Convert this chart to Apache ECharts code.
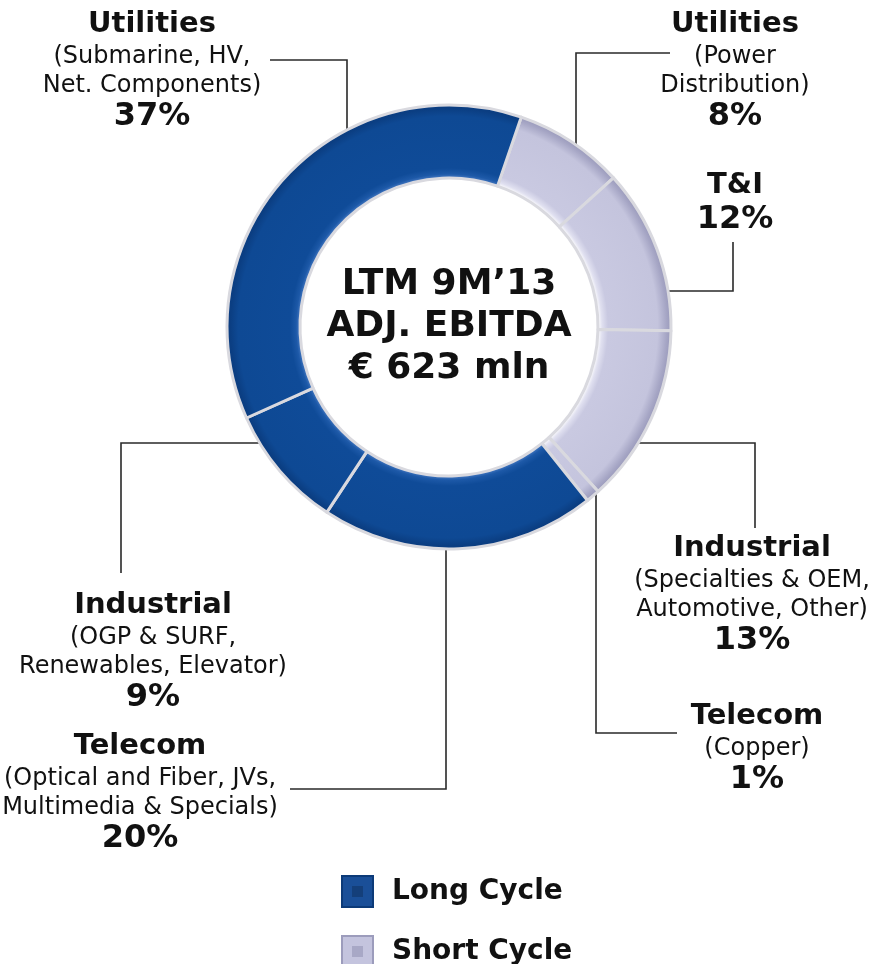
<!DOCTYPE html>
<html>
<head>
<meta charset="utf-8">
<script src="https://cdn.jsdelivr.net/npm/echarts@6/dist/echarts.min.js"></script>
<style>
  html, body { margin: 0; padding: 0; background: #ffffff; }
  #chart { width: 875px; height: 964px; }
</style>
</head>
<body>
<div id="chart"></div>
<script>
// Segment data, clockwise from the top of the ring
const segmentTitles = ['Utilities', 'T&I', 'Industrial', 'Telecom', 'Telecom', 'Industrial', 'Utilities'];
const segmentDetails = [
  ['(Power', 'Distribution)'],
  [],
  ['(Specialties & OEM,', 'Automotive, Other)'],
  ['(Copper)'],
  ['(Optical and Fiber, JVs,', 'Multimedia & Specials)'],
  ['(OGP & SURF,', 'Renewables, Elevator)'],
  ['(Submarine, HV,', 'Net. Components)']
];
const segmentShares = [8, 12, 13, 1, 20, 9, 37];
const segmentCycles = ['Short Cycle', 'Short Cycle', 'Short Cycle', 'Short Cycle', 'Long Cycle', 'Long Cycle', 'Long Cycle'];
const cycleNames = ['Long Cycle', 'Short Cycle'];
const centerLines = ['LTM 9M\u201913', 'ADJ. EBITDA', '\u20ac 623 mln'];

// Ring geometry
const CX = 449, CY = 327, R_IN = 149, R_OUT = 222;
const FONT = 'DejaVu Sans, Verdana, sans-serif';

// Bevelled ring fills (radial, absolute pixel space)
function ringFill(stops) {
  return {
    type: 'radial', x: CX, y: CY, r: R_OUT, global: true,
    colorStops: stops.map(s => ({ offset: s[0], color: s[1] }))
  };
}
const k = R_IN / R_OUT;
const cycleFill = {
  'Long Cycle': ringFill([
    [0, '#4a7cc4'], [k, '#4a7cc4'], [k + 0.018, '#1d59a8'], [k + 0.045, '#0f4b98'],
    [0.95, '#0e4994'], [0.985, '#0b3e82'], [1, '#0b3e82']
  ]),
  'Short Cycle': ringFill([
    [0, '#ffffff'], [k, '#ffffff'], [k + 0.018, '#e0e0f0'], [k + 0.045, '#c9c9e1'],
    [0.94, '#c4c4dd'], [0.98, '#a6a6c5'], [1, '#9a9abb']
  ])
};
const legendSwatch = { 'Long Cycle': ['#1a4f98', '#0c3a78', '#143f7a'], 'Short Cycle': ['#c4c4de', '#9c9cbc', '#a8a8c6'] };

// Label anchors: [centre x, top y]
const labelAnchor = [[735, 6], [735, 167], [752, 530], [757, 698], [140, 728], [153, 587], [152, 6]];

function ringYAt(x, sign) { return CY + sign * Math.sqrt(R_OUT * R_OUT - (x - CX) * (x - CX)); }
function ringXAt(y, sign) { return CX + sign * Math.sqrt(R_OUT * R_OUT - (y - CY) * (y - CY)); }

// Leader lines, ending on the ring's outer edge
const leaders = [
  [[670, 53], [576, 53], [576, ringYAt(576, -1)]],
  [[733, 242], [733, 291], [ringXAt(291, 1), 291]],
  [[ringXAt(443, 1), 443], [755, 443], [755, 528]],
  [[596, ringYAt(596, 1)], [596, 733], [677, 733]],
  [[446, ringYAt(446, 1)], [446, 789], [290, 789]],
  [[ringXAt(443, -1), 443], [121, 443], [121, 573]],
  [[270, 60], [347, 60], [347, ringYAt(347, -1)]]
];

const pieData = segmentShares.map((v, i) => ({
  name: segmentTitles[i] + ' ' + segmentDetails[i].join(' '),
  value: v,
  itemStyle: { color: cycleFill[segmentCycles[i]] }
}));

const graphics = [];
leaders.forEach(pts => {
  graphics.push({
    type: 'polyline', silent: true, z: 1,
    shape: { points: pts },
    style: { stroke: '#2a2a2a', lineWidth: 1.6, fill: null }
  });
});
graphics.push({
  type: 'text', x: CX, y: CY, z: 5,
  style: {
    text: centerLines.join('\n'), align: 'center', verticalAlign: 'middle',
    font: 'bold 36px ' + FONT, lineHeight: 42, fill: '#111111'
  }
});
cycleNames.forEach((name, i) => {
  const y = 876 + i * 60;
  const c = legendSwatch[name];
  graphics.push({ type: 'rect', shape: { x: 342, y: y, width: 31, height: 31 }, style: { fill: c[0], stroke: c[1], lineWidth: 2 } });
  graphics.push({ type: 'rect', shape: { x: 352, y: y + 10, width: 11, height: 11 }, style: { fill: c[2] } });
  graphics.push({
    type: 'text', x: 392, y: y + 15.5,
    style: { text: name, font: 'bold 28px ' + FONT, fill: '#111111', verticalAlign: 'middle' }
  });
});

const chart = echarts.init(document.getElementById('chart'), null, { renderer: 'canvas' });
chart.setOption({
  backgroundColor: '#ffffff',
  animation: false,
  series: [{
    type: 'pie',
    center: [CX, CY],
    radius: [R_IN, R_OUT],
    startAngle: 71,
    clockwise: true,
    avoidLabelOverlap: false,
    itemStyle: { borderColor: '#d9d9df', borderWidth: 3 },
    emphasis: { disabled: true },
    data: pieData,
    labelLine: { show: false },
    label: {
      show: true,
      position: 'outside',
      color: '#111111',
      fontFamily: FONT,
      formatter: p => {
        const i = p.dataIndex;
        const lines = ['{t|' + segmentTitles[i] + '}'];
        segmentDetails[i].forEach(d => lines.push('{s|' + d + '}'));
        lines.push('{p|' + p.value + '%}');
        return lines.join('\n');
      },
      rich: {
        t: { fontFamily: FONT, fontWeight: 'bold', fontSize: 29, lineHeight: 36, color: '#111111', align: 'center' },
        s: { fontFamily: FONT, fontSize: 24, lineHeight: 29, color: '#111111', align: 'center' },
        p: { fontFamily: FONT, fontWeight: 'bold', fontSize: 32, lineHeight: 34, color: '#111111', align: 'center' }
      }
    },
    labelLayout: params => {
      const a = labelAnchor[params.dataIndex];
      return { x: a[0], y: a[1], align: 'center', verticalAlign: 'top' };
    }
  }],
  graphic: graphics
});
</script>
</body>
</html>
